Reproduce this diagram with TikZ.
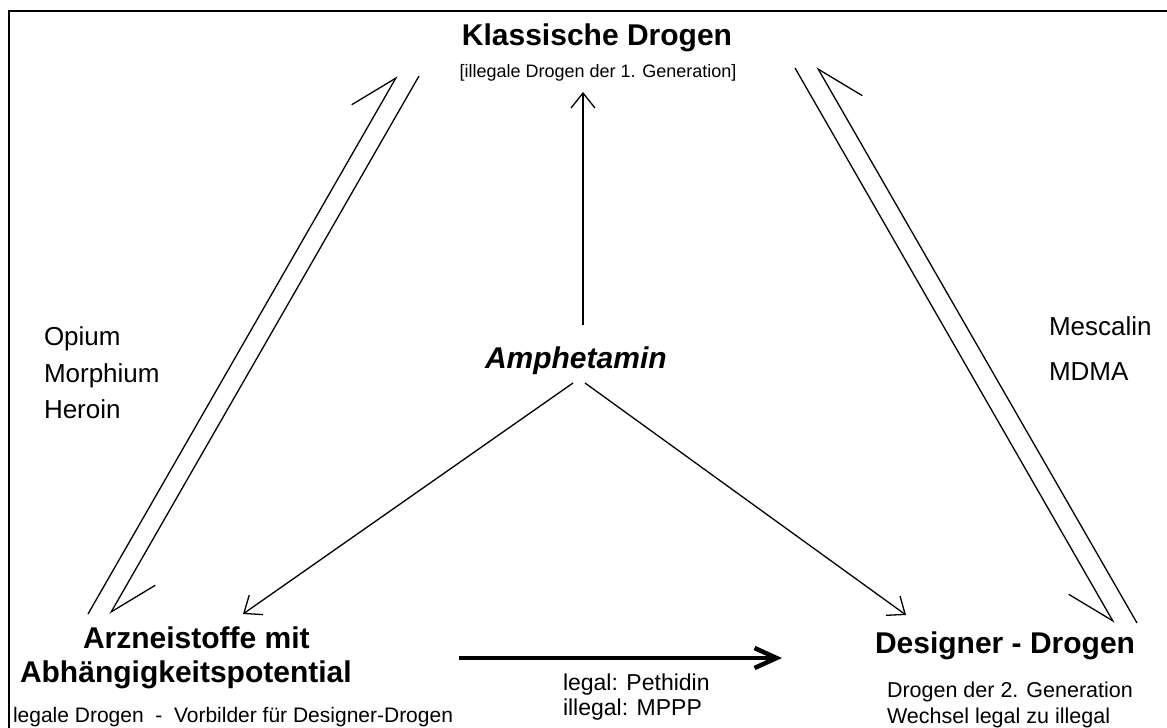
\documentclass[tikz,border=0pt]{standalone}
\usepackage{fontspec}
\setmainfont{Liberation Sans}
\usetikzlibrary{arrows.meta}
\begin{document}
\begin{tikzpicture}[x=1pt,y=-1pt,
  lbl/.style={inner sep=0pt, outer sep=0pt},
  big/.style={lbl, font=\fontsize{30}{34}\selectfont\bfseries},
  mid/.style={lbl, font=\fontsize{26}{30}\selectfont},
  small/.style={lbl, font=\fontsize{21}{25}\selectfont},
  conn/.style={line width=1.3pt},
  harpL/.style={conn, -{Straight Barb[harpoon, length=45pt, width=50pt]}},
  harpR/.style={conn, -{Straight Barb[harpoon, swap, length=45pt, width=50pt]}},
  openarrow/.style={conn, -{Straight Barb[length=15pt, width=24pt]}},
  boldarrow/.style={line width=4.5pt, -{Straight Barb[length=22pt, width=20pt]}},
  frame/.style={line width=2pt}]
\useasboundingbox (0,0) rectangle (1167,728);
\draw[frame] (9,740) -- (9,11) -- (1180,11);

% texts
\node[big, anchor=base] (klass) at (597,45) {Klassische Drogen};
\node[lbl, font=\fontsize{18}{22}\selectfont, anchor=base] (klassSub) at (598,77) {[illegale Drogen der 1. Generation]};
\node[mid, anchor=base west] (opium) at (44,345) {Opium};
\node[mid, anchor=base west] (morph) at (44,382) {Morphium};
\node[mid, anchor=base west] (heroin) at (44,418) {Heroin};
\node[mid, anchor=base west] (mesc) at (1049,335) {Mescalin};
\node[mid, anchor=base west] (mdma) at (1049,380) {MDMA};
\node[big, font=\fontsize{30}{34}\selectfont\bfseries\itshape, anchor=base west] (amph) at (485,368) {Amphetamin};
\node[big, anchor=base west] (arz1) at (83,648) {Arzneistoffe mit};
\node[big, anchor=base west] (arz2) at (20,682) {Abhängigkeitspotential};
\node[small, anchor=base west] (arzSub) at (13,722) {legale Drogen\ \ -\ \ Vorbilder für Designer-Drogen};
\node[lbl, font=\fontsize{23}{27}\selectfont, anchor=base west] (legal1) at (563,690) {legal: Pethidin};
\node[lbl, font=\fontsize{23}{27}\selectfont, anchor=base west] (legal2) at (563,715) {illegal: MPPP};
\node[big, anchor=base west] (designer) at (875,653) {Designer - Drogen};
\node[lbl, font=\fontsize{21.5}{25}\selectfont, anchor=base west] (desSub1) at (887,697) {Drogen der 2. Generation};
\node[lbl, font=\fontsize{21.5}{25}\selectfont, anchor=base west] (desSub2) at (887,723) {Wechsel legal zu illegal};

% connector end points
\coordinate (aS) at (88,614);  \coordinate (aE) at (397,76);
\coordinate (bS) at (419,76);  \coordinate (bE) at (110,614);
\coordinate (cS) at (795,68);  \coordinate (cE) at (1114,623);
\coordinate (dS) at (1137,623); \coordinate (dE) at (817,67);
\coordinate (upS) at (583,325); \coordinate (upE) at (583,92);
\coordinate (lS) at (573,383); \coordinate (lE) at (243,614);
\coordinate (rS) at (585,383); \coordinate (rE) at (906,615);
\coordinate (hS) at (459,658); \coordinate (hE) at (782,658);

\draw[harpL] (aS) -- (aE);
\draw[harpL] (bS) -- (bE);
\draw[harpR] (cS) -- (cE);
\draw[harpR] (dS) -- (dE);
\draw[openarrow] (upS) -- (upE);
\draw[openarrow] (lS) -- (lE);
\draw[openarrow] (rS) -- (rE);
\draw[boldarrow] (hS) -- (hE);
\end{tikzpicture}
\end{document}
